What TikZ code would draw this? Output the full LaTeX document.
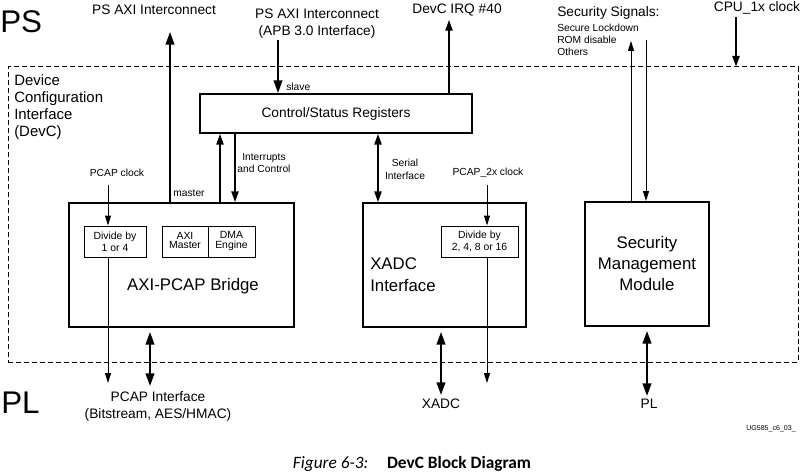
\documentclass[tikz,border=0pt]{standalone}
\usepackage{fontspec}
\setmainfont{Liberation Sans}
\newfontfamily\capfont{Carlito}
\usetikzlibrary{arrows.meta}
\begin{document}
\begin{tikzpicture}[x=0.75pt,y=-0.75pt,
  box/.style={draw,line width=1.5pt,inner sep=0pt},
  sbox/.style={draw,line width=0.75pt,inner sep=0pt},
  lbl/.style={inner sep=0pt,font=\fontsize{10.3}{12.75}\selectfont},
  slbl/.style={inner sep=0pt,font=\fontsize{7.7}{9}\selectfont},
  big/.style={inner sep=0pt,font=\fontsize{23.5}{28}\selectfont},
  ttl/.style={inner sep=0pt,font=\fontsize{12.6}{15.75}\selectfont},
  thickarr/.style={line width=1.5pt,-{Triangle[length=9.5pt,width=6.5pt]}},
  thickdbl/.style={line width=1.5pt,{Triangle[length=9.5pt,width=6.5pt]}-{Triangle[length=9.5pt,width=6.5pt]}},
  medarr/.style={line width=1pt,-{Triangle[length=8pt,width=5.5pt]}},
  meddbl/.style={line width=1pt,{Triangle[length=8pt,width=5.5pt]}-{Triangle[length=8pt,width=5.5pt]}},
  thinarr/.style={line width=0.75pt,-{Triangle[length=7.5pt,width=4.5pt]}}
]
\useasboundingbox (0,0) rectangle (802,474);

% dashed DevC region
\node[draw,line width=0.75pt,dash pattern=on 4pt off 2pt,minimum width=592.5pt,minimum height=221.25pt,inner sep=0pt] (devc) at (403,214.5) {};

% boxes
\node[box,minimum width=204pt,minimum height=29.25pt] (csr) at (336,113.5) {\fontsize{10.3}{12}\selectfont Control/Status Registers};
\node[box,minimum width=168.75pt,minimum height=93pt] (axi) at (181.5,265) {};
\node[box,minimum width=122.25pt,minimum height=93pt] (xadc) at (444.5,265) {};
\node[box,minimum width=93pt,minimum height=93pt] (smm) at (647,264) {};

\node[sbox,minimum width=46.5pt,minimum height=23.25pt,align=center,font=\fontsize{7.8}{9}\selectfont] (div1) at (115,241.5) {Divide by\\1 or 4};
\node[sbox,minimum width=34.5pt,minimum height=23.25pt,align=center,font=\fontsize{7.8}{6.75}\selectfont] (axim) at (185,241.5) {\raisebox{2pt}{\shortstack{AXI\\[-1.5pt]Master}}};
\node[sbox,minimum width=35.25pt,minimum height=23.25pt,align=center,font=\fontsize{7.8}{6.75}\selectfont] (dma) at (231.5,241.5) {\raisebox{2pt}{\shortstack{DMA\\[-1.5pt]Engine}}};
\node[sbox,minimum width=57.75pt,minimum height=23.25pt,align=center,font=\fontsize{7.8}{9}\selectfont] (div2) at (479.5,241.5) {Divide by\\2, 4, 8 or 16};

% box titles
\node[ttl] (axit) at (193,286) {AXI-PCAP Bridge};
\node[ttl,anchor=west,align=left,font=\fontsize{12.6}{16.5}\selectfont] (xadct) at (370,275) {XADC\\Interface};
\node[ttl,align=center] (smmt) at (647,263) {Security\\Management\\Module};

% big side labels
\node[big,anchor=west] (ps) at (0,21.5) {PS};
\node[big,anchor=west] (pl) at (1,402.5) {PL};
\node[anchor=west,inner sep=0pt,align=left,font=\fontsize{11.2}{12.75}\selectfont] (devct) at (14,107.5) {Device\\Configuration\\Interface\\(DevC)};

% top labels
\node[lbl] (axiint) at (154,10) {PS AXI Interconnect};
\node[lbl,align=center] (apb) at (317,23.5) {PS AXI Interconnect\\(APB 3.0 Interface)};
\node[lbl] (irq) at (457,10) {DevC IRQ \#40};
\node[lbl,anchor=west] (secs) at (557,13) {Security Signals:};
\node[slbl,anchor=west,align=left] (secl) at (557,40) {Secure Lockdown\\ROM disable\\Others};
\node[lbl] (cpu) at (757,8) {CPU\_1x clock};

% small labels
\node[slbl,anchor=west] (slave) at (286,87) {slave};
\node[slbl,anchor=west] (master) at (173,193) {master};
\node[slbl,align=center] (intc) at (264,163) {Interrupts\\and Control};
\node[slbl,align=center,font=\fontsize{7.7}{9.75}\selectfont] (ser) at (405,169.5) {Serial\\Interface};
\node[slbl] (pclk) at (117,173) {PCAP clock};
\node[slbl] (p2clk) at (488,173) {PCAP\_2x clock};

% bottom labels
\node[lbl,align=center] (pcapif) at (158,406.5) {PCAP Interface\\(Bitstream, AES/HMAC)};
\node[lbl] (xadcl) at (441,404) {XADC};
\node[lbl] (pll) at (649,404) {PL};
\node[inner sep=0pt,font=\fontsize{5.3}{6}\selectfont] (ug) at (771,429) {UG585\_c6\_03\_};
\node[inner sep=0pt,font=\capfont\fontsize{13}{15}\selectfont] (cap) at (412,464) {\textit{Figure 6-3:}\hspace{14pt}\textbf{DevC Block Diagram}};

% free-end coordinates
\coordinate (mtop) at (170,32);
\coordinate (apbs) at (278,40);
\coordinate (irqt) at (449,20);
\coordinate (secup) at (631,41);
\coordinate (secdn) at (646,40);
\coordinate (cpus) at (736,17);
\coordinate (intup) at (220,0);
\coordinate (intdn) at (235,0);
\coordinate (serx) at (378,0);
\coordinate (pcs) at (108,185);
\coordinate (pce) at (108,383);
\coordinate (p2s) at (487,185);
\coordinate (p2e) at (487,383);
\coordinate (pcapb) at (150,386);
\coordinate (xadcb) at (441,395);
\coordinate (plb) at (647,396);

% connectors
\draw[thickarr] (axi.north -| mtop) -- (mtop);
\draw[thickarr] (apbs) -- (csr.north -| apbs);
\draw[medarr] (csr.north -| irqt) -- (irqt);
\draw[thinarr] (smm.north -| secup) -- (secup);
\draw[thinarr] (secdn) -- (smm.north -| secdn);
\draw[medarr] (cpus) -- (devc.north -| cpus);
\draw[medarr] (axi.north -| intup) -- (csr.south -| intup);
\draw[medarr] (csr.south -| intdn) -- (axi.north -| intdn);
\draw[meddbl] (csr.south -| serx) -- (xadc.north -| serx);
\draw[thinarr] (pcs) -- (div1.north -| pcs);
\draw[thinarr] (div1.south -| pce) -- (pce);
\draw[thinarr] (p2s) -- (div2.north -| p2s);
\draw[thinarr] (div2.south -| p2e) -- (p2e);
\draw[thickdbl,shorten <=3pt] (axi.south -| pcapb) -- (pcapb);
\draw[thickdbl,shorten <=3pt] (xadc.south -| xadcb) -- (xadcb);
\draw[thickdbl,shorten <=3pt] (smm.south -| plb) -- (plb);
\end{tikzpicture}
\end{document}
